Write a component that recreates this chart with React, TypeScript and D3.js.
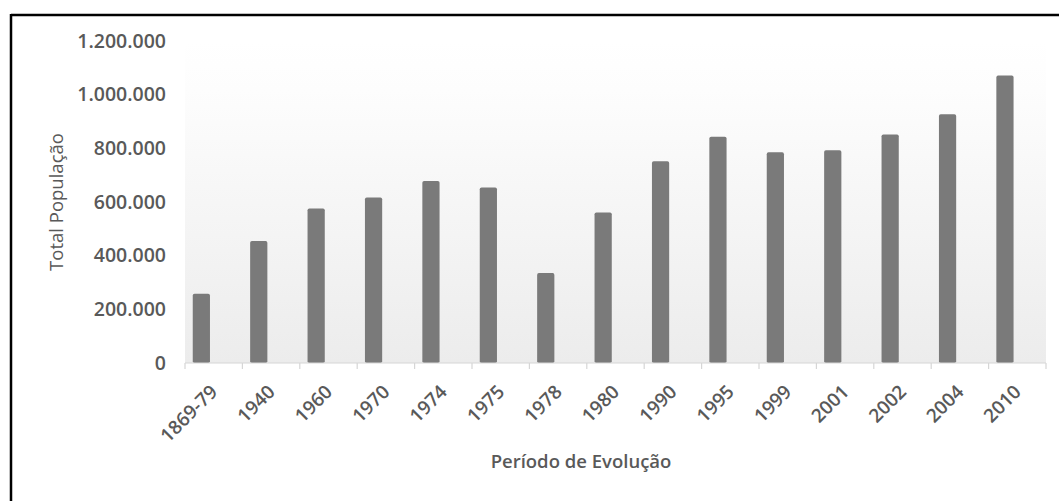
import React from "react";
import * as d3 from "d3";

const categories = ["1869-79","1940","1960","1970","1974","1975","1978","1980","1990","1995","1999","2001","2002","2004","2010"];
const populations = [258000,455000,576000,617000,678000,654000,335000,561000,752000,843000,785000,793000,852000,927000,1071000];
const yTicks = [0,200000,400000,600000,800000,1000000,1200000];
const yTitle = "Total População";
const xTitle = "Período de Evolução";

const W = 1059, H = 501;
const plotLeft = 185, plotRight = 1046, plotTop = 41, plotBottom = 363;
const fmt = (v: number) => d3.format(",")(v).replace(/,/g, ".");
const textColor = "#595959";
const font = "'Open Sans', 'DejaVu Sans', sans-serif";

export default function App() {
  const x = d3.scaleBand<string>().domain(categories).range([plotLeft, plotRight]).paddingInner(0).paddingOuter(0);
  const y = d3.scaleLinear().domain([0, 1200000]).range([plotBottom, plotTop]);
  const bw = x.bandwidth();
  const barW = bw * 0.3;
  const barOff = bw * 0.135;
  const boundaries = categories.map(c => x(c)!).concat([plotRight]);

  return (
    <svg width={W} height={H} style={{ position: "absolute", left: 0, top: 0, background: "#fff" }}>
      <defs>
        <linearGradient id="bg" x1="0" y1="0" x2="0" y2="1">
          <stop offset="0" stopColor="#ffffff" />
          <stop offset="0.15" stopColor="#fdfdfd" />
          <stop offset="1" stopColor="#ececec" />
        </linearGradient>
      </defs>
      <rect x={0} y={0} width={W} height={H} fill="#fff" />
      <line x1={11} y1={15} x2={W} y2={15} stroke="#000" strokeWidth={2.5} />
      <line x1={11} y1={14} x2={11} y2={H} stroke="#000" strokeWidth={2.5} />
      <rect x={plotLeft} y={plotTop} width={plotRight - plotLeft} height={plotBottom - plotTop} fill="url(#bg)" />
      {categories.map((c, i) => (
        <rect key={c} x={x(c)! + barOff} y={y(populations[i])} width={barW}
          height={plotBottom - y(populations[i])} fill="#7a7a7a" rx={1.8} />
      ))}
      <line x1={plotLeft} y1={plotBottom} x2={plotRight} y2={plotBottom} stroke="#d6d6d6" strokeWidth={1.2} />
      {boundaries.map((b, i) => (
        <line key={i} x1={b} y1={plotBottom} x2={b} y2={plotBottom + 6} stroke="#d6d6d6" strokeWidth={1.2} />
      ))}
      {yTicks.map(t => (
        <text key={t} x={166} y={y(t)} dy="0.35em" textAnchor="end" fill={textColor}
          fontFamily={font} fontWeight={600} fontSize={19.5}>{fmt(t)}</text>
      ))}
      {categories.map(c => {
        const cx = x(c)! + bw / 2 + 5;
        const cy = 393;
        return (
          <text key={c} transform={`translate(${cx},${cy}) rotate(-45)`} textAnchor="end"
            fill={textColor} fontFamily={font} fontWeight={600} fontSize={19}>{c}</text>
        );
      })}
      <text transform={`translate(63,202) rotate(-90)`} textAnchor="middle" fill={textColor}
        fontFamily={font} fontSize={18.5}>{yTitle}</text>
      <text x={581} y={468} textAnchor="middle" fill={textColor} fontFamily={font}
        fontWeight={600} fontSize={18.5}>{xTitle}</text>
    </svg>
  );
}
